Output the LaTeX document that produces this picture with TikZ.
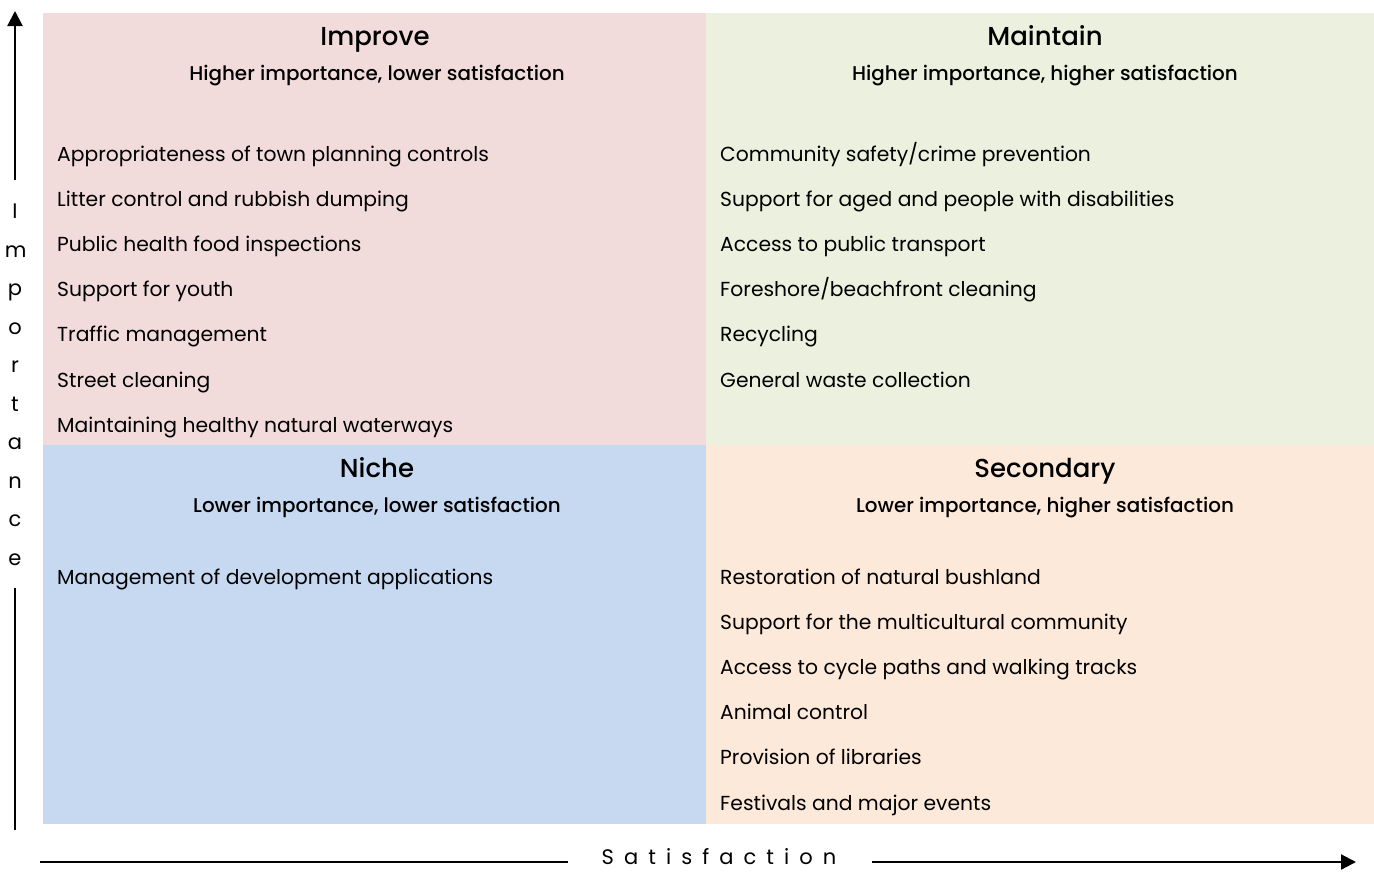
\documentclass[tikz,border=0pt]{standalone}
\usepackage{fontspec}
\setmainfont{Poppins}
\newfontfamily\medfont{Poppins Medium}
\usetikzlibrary{arrows.meta}
\definecolor{improvebg}{HTML}{F2DCDB}
\definecolor{maintainbg}{HTML}{EBF1DE}
\definecolor{nichebg}{HTML}{C6D9F0}
\definecolor{secondarybg}{HTML}{FDE9D9}
\begin{document}
\begin{tikzpicture}[x=1pt,y=-1pt,
  item/.style={anchor=base west, inner sep=0pt, font=\fontsize{20.3}{24}\selectfont},
  qtitle/.style={anchor=base, inner sep=0pt, font=\medfont\fontsize{26}{30}\selectfont},
  qsub/.style={anchor=base, inner sep=0pt, font=\medfont\fontsize{19.9}{24}\selectfont},
  axis/.style={line width=2.2pt},
  tip/.style={-{Triangle[length=15pt,width=15pt]}}]
\useasboundingbox (0,0) rectangle (1374,871);

% quadrant backgrounds
\fill[improvebg]   (43,13)  rectangle (706,445);
\fill[maintainbg]  (706,13) rectangle (1374,445);
\fill[nichebg]     (43,445) rectangle (706,824);
\fill[secondarybg] (706,445) rectangle (1374,824);

% quadrant headings
\node[qtitle] (t1) at (375,45) {Improve};
\node[qsub]   (s1) at (377,80) {Higher importance, lower satisfaction};
\node[qtitle] (t2) at (1045,45) {Maintain};
\node[qsub]   (s2) at (1045,80) {Higher importance, higher satisfaction};
\node[qtitle] (t3) at (377,477) {Niche};
\node[qsub]   (s3) at (377,512) {Lower importance, lower satisfaction};
\node[qtitle] (t4) at (1045,477) {Secondary};
\node[qsub]   (s4) at (1045,512) {Lower importance, higher satisfaction};

% Improve items
\node[item] (i1) at (57,161) {Appropriateness of town planning controls};
\node[item] (i2) at (57,206) {Litter control and rubbish dumping};
\node[item] (i3) at (57,251) {Public health food inspections};
\node[item] (i4) at (57,296) {Support for youth};
\node[item] (i5) at (57,341) {Traffic management};
\node[item] (i6) at (57,387) {Street cleaning};
\node[item] (i7) at (57,432) {Maintaining healthy natural waterways};

% Maintain items
\node[item] (m1) at (720,161) {Community safety/crime prevention};
\node[item] (m2) at (720,206) {Support for aged and people with disabilities};
\node[item] (m3) at (720,251) {Access to public transport};
\node[item] (m4) at (720,296) {Foreshore/beachfront cleaning};
\node[item] (m5) at (720,341) {Recycling};
\node[item] (m6) at (720,387) {General waste collection};

% Niche items
\node[item] (n1) at (57,584) {Management of development applications};

% Secondary items
\node[item] (c1) at (720,584) {Restoration of natural bushland};
\node[item] (c2) at (720,629) {Support for the multicultural community};
\node[item] (c3) at (720,674) {Access to cycle paths and walking tracks};
\node[item] (c4) at (720,719) {Animal control};
\node[item] (c5) at (720,764) {Provision of libraries};
\node[item] (c6) at (720,810) {Festivals and major events};

% vertical axis, label stacked letter by letter
\coordinate (ytop) at (15,11);
\coordinate (ybot) at (15,830);
\coordinate (ygap1) at (15,180);
\coordinate (ygap2) at (15,588);
\node[inner sep=0pt, align=center, text width=20pt, font=\fontsize{21}{38.5}\selectfont] (ylab) at (15,385)
  {I\\m\\p\\o\\r\\t\\a\\n\\c\\e};
\draw[axis,tip] (ygap1) -- (ytop);
\draw[axis] (ygap2) -- (ybot);

% horizontal axis with spaced-out label
\coordinate (xstart) at (40,862);
\coordinate (xend) at (1356,862);
\coordinate (xgap1) at (568,862);
\coordinate (xgap2) at (872,862);
\node[anchor=base, inner sep=0pt, font=\addfontfeature{LetterSpace=48}\fontsize{21}{24}\selectfont] (xlab) at (719,864) {Satisfaction};
\draw[axis] (xstart) -- (xgap1);
\draw[axis,tip] (xgap2) -- (xend);
\end{tikzpicture}
\end{document}
